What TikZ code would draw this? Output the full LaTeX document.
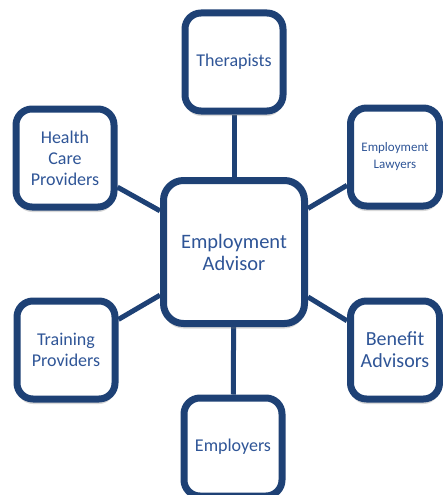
\documentclass[tikz,border=0pt]{standalone}
\usepackage{fontspec}
\setmainfont{Carlito}
\usetikzlibrary{shadows,backgrounds}
\definecolor{navy}{HTML}{1E4175}
\definecolor{textblue}{HTML}{2F5597}
\newcommand{\fsize}[2]{\fontsize{#1}{#2}\selectfont}

\begin{document}
\begin{tikzpicture}
[x=1pt,y=-1pt,
link/.style={navy, line width=5pt},
block/.style={draw=navy, line width=7pt, fill=white, rounded corners=16pt,
text=textblue, align=center, inner sep=0pt, minimum width=98pt,
minimum height=98pt, font=\fsize{18}{21},
drop shadow={opacity=.3, shadow xshift=0pt, shadow yshift=-5pt}}]
\useasboundingbox (0,0) rectangle (443,495);
%%
\node[block, minimum width=141pt, minimum height=143pt, rounded corners=20pt,
font=\fsize{20.5}{22}] (advisor) at (234,252) {Employment\\Advisor};
%%
\node[block] (therapists) at (234,62) {Therapists};
%%
\node[block, minimum width=89pt, font=\fsize{13}{17}] (lawyers) at (395,157)
{Employment\\Lawyers};
%%
\node[block] (health) at (65,158) {Health\\Care\\Providers};
%%
\node[block] (training) at (66,350) {Training\\Providers};
%%
\node[block, minimum width=89pt, font=\fsize{20}{22}] (benefit) at (395,350)
{Benefit\\Advisors};
%%
\node[block] (employers) at (233,447) {Employers};
%%
\begin{pgfonlayer}{background}
\draw[link] (advisor) -- (therapists);
\draw[link] (advisor) -- (lawyers);
\draw[link] (advisor) -- (health);
\draw[link] (advisor) -- (training);
\draw[link] (advisor) -- (benefit);
\draw[link] (advisor) -- (employers);
\end{pgfonlayer}
\end{tikzpicture}
\end{document}
